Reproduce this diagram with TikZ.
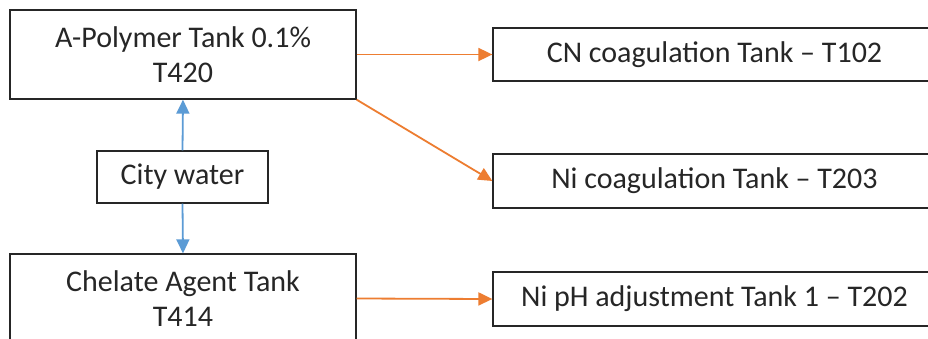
\documentclass[tikz,border=0pt]{standalone}
\usepackage{fontspec}
\setmainfont{Carlito}
\usetikzlibrary{arrows.meta}
\definecolor{boxline}{HTML}{262626}
\definecolor{flowor}{HTML}{ED7D31}
\definecolor{flowbl}{HTML}{5B9BD5}
\begin{document}
\begin{tikzpicture}[x=1pt,y=-1pt,
  tank/.style={draw=boxline,line width=1.3pt,fill=white,inner sep=0pt,align=center,
    font=\fontsize{30}{35}\selectfont,text=black!85},
  oarrow/.style={draw=flowor,line width=1.8pt,-{Triangle[length=14pt,width=13pt]}},
  barrow/.style={draw=flowbl,line width=1.8pt,-{Triangle[length=14pt,width=13pt]}}]
\useasboundingbox (0,0) rectangle (928,338);
\fill[white] (0,0) rectangle (928,338);
\begin{scope}
\clip (0,0) rectangle (928,338);
\node[tank,minimum width=346pt,minimum height=89pt] (apoly) at (183,54.5) {A-Polymer Tank 0.1\%\\T420};
\node[tank,minimum width=171pt,minimum height=52pt] (city) at (182.5,177) {City water};
\node[tank,minimum width=346pt,minimum height=89pt] (chel) at (183,298.5) {Chelate Agent Tank\\T414};
\node[tank,minimum width=443pt,minimum height=53pt] (cn) at (714.5,54.5) {CN coagulation Tank – T102};
\node[tank,minimum width=443pt,minimum height=54pt] (nic) at (714.5,181) {Ni coagulation Tank – T203};
\node[tank,minimum width=443pt,minimum height=54pt] (niph) at (714.5,299) {Ni pH adjustment Tank 1 – T202};
\end{scope}
\draw[oarrow] (apoly.east) -- (cn.west);
\draw[oarrow] (apoly.south east) -- (nic.west);
\draw[oarrow] (chel.east) -- (niph.west);
\draw[barrow] (city.north) -- (apoly.south);
\draw[barrow] (city.south) -- (chel.north);
\end{tikzpicture}
\end{document}
